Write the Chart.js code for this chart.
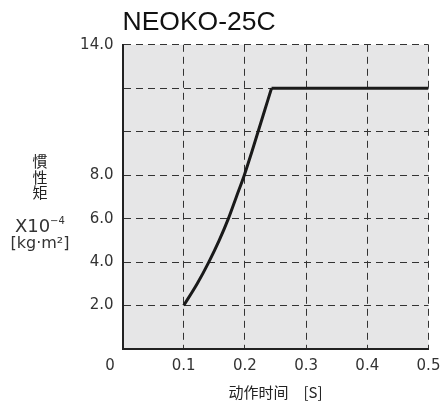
<!DOCTYPE html>
<html>
<head>
<meta charset="utf-8">
<script src="https://cdn.jsdelivr.net/npm/chart.js@4"></script>
<style>
  html, body { margin: 0; padding: 0; background: #fff; }
  #wrap { width: 444px; height: 402px; }
</style>
</head>
<body>
<div id="wrap"><canvas id="chart"></canvas></div>
<script>
// 动作时间 [S] vs 慣性矩 X10^-4 [kg·m²]
var times = [0.1, 0.122, 0.141, 0.158, 0.173, 0.186, 0.199, 0.2105, 0.2215, 0.2325, 0.2435, 0.5];
var inertia = [2, 3, 4, 5, 6, 7, 8, 9, 10, 11, 12, 12];
var yLabeled = [2, 4, 6, 8, 14];

var points = times.map(function (t, i) {
  return { x: t, y: inertia[i] };
});
var rise = points.slice(0, points.length - 1);
var flat = points.slice(points.length - 2);

var plotBg = {
  id: "plotBg",
  beforeDraw: function (chart) {
    var a = chart.chartArea;
    var c = chart.ctx;
    c.save();
    c.fillStyle = "#e6e6e7";
    c.fillRect(a.left, a.top, a.right - a.left, a.bottom - a.top);
    c.restore();
  }
};

var sideText = {
  id: "sideText",
  afterDraw: function (chart) {
    var c = chart.ctx;
    c.save();
    c.fillStyle = "#222";
    c.textAlign = "center";
    c.textBaseline = "middle";
    c.font = "15px 'Noto Sans CJK JP'";
    c.fillText("慣", 40, 161);
    c.fillText("性", 40, 177);
    c.fillText("矩", 40, 192);

    c.fillStyle = "#333";
    c.textBaseline = "alphabetic";
    c.textAlign = "left";
    c.font = "18px 'DejaVu Sans'";
    c.fillText("X10", 15, 232);
    c.font = "10px 'DejaVu Sans'";
    c.fillText("\u22124", 50, 224);
    c.textAlign = "center";
    c.font = "16px 'DejaVu Sans'";
    c.fillText("[kg\u00b7m\u00b2]", 40, 248);

    // origin label
    c.font = "15px 'DejaVu Sans'";
    c.textBaseline = "middle";
    c.fillText("0", 110, 366);
    c.restore();
  }
};

var lineStyle = {
  showLine: true,
  borderColor: "#1a1a1a",
  borderWidth: 3,
  pointRadius: 0
};

new Chart(document.getElementById("chart"), {
  type: "scatter",
  data: {
    datasets: [
      Object.assign({ data: rise, cubicInterpolationMode: "monotone" }, lineStyle),
      Object.assign({ data: flat, tension: 0 }, lineStyle)
    ]
  },
  options: {
    responsive: true,
    maintainAspectRatio: false,
    animation: false,
    layout: { padding: { left: 0, right: 15.5, top: 0, bottom: 0 } },
    plugins: {
      legend: { display: false },
      tooltip: { enabled: false },
      title: {
        display: true,
        text: "NEOKO-25C",
        align: "start",
        fullSize: false,
        color: "#111",
        font: { family: "'Liberation Sans'", size: 26.5, weight: "normal" },
        padding: { top: 7, bottom: 6 }
      }
    },
    scales: {
      x: {
        type: "linear",
        min: 0,
        max: 0.5,
        afterFit: function (s) {
          s.height = 53;
          s.paddingRight = 0;
          s.paddingLeft = 0;
        },
        ticks: {
          stepSize: 0.1,
          padding: 8,
          color: "#333",
          font: { family: "'DejaVu Sans'", size: 15 },
          callback: function (v) { return v < 0.01 ? "" : v.toFixed(1); }
        },
        grid: { color: "#333", lineWidth: 1, drawTicks: false },
        border: { color: "#222", width: 2, dash: [7, 5] },
        title: {
          display: true,
          text: "动作时间　[S]",
          color: "#222",
          font: { family: "'Noto Sans CJK SC'", size: 15 },
          padding: { top: 0, bottom: 1 }
        }
      },
      y: {
        min: 0,
        max: 14,
        afterFit: function (s) { s.width = 122.5; },
        ticks: {
          stepSize: 2,
          padding: 9,
          color: "#333",
          font: { family: "'DejaVu Sans'", size: 15 },
          callback: function (v) {
            return yLabeled.indexOf(Math.round(v)) >= 0 ? v.toFixed(1) : "";
          }
        },
        grid: { color: "#333", lineWidth: 1, drawTicks: false },
        border: { color: "#222", width: 2, dash: [7, 5] }
      }
    }
  },
  plugins: [plotBg, sideText]
});
</script>
</body>
</html>
